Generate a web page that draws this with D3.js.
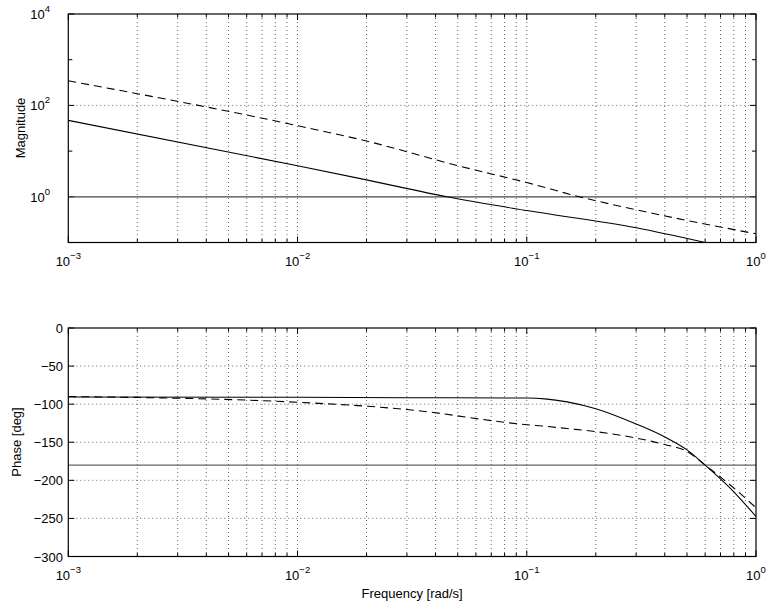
<!DOCTYPE html>
<html><head><meta charset="utf-8">
<script src="https://cdn.jsdelivr.net/npm/d3@7"></script>
<style>body{margin:0;background:#fff}text{font-family:"Liberation Sans",Arial,sans-serif;font-size:13px}</style>
</head><body><svg id="c" width="770" height="608"></svg>
<script>
// frequencies [rad/s] and readings
var magFreq = [0.001, 0.01, 0.02, 0.0448, 0.1, 0.3, 0.6];
var magSolid = [47, 4.8, 2.35, 1, 0.5, 0.21, 0.1];
var magDashFreq = [0.001, 0.01, 0.02, 0.05, 0.1, 0.17, 0.3, 1];
var magDash = [345, 36, 16.6, 4.8, 2.05, 1, 0.52, 0.155];
var phFreq = [0.001, 0.01, 0.03, 0.1, 0.12, 0.15, 0.2, 0.3, 0.4, 0.5, 0.6, 0.8, 1];
var phSolid = [-90.5, -91, -91.5, -92, -93, -97, -106, -126, -143, -160, -180, -215, -247.5];
var phDash = [-90, -97.5, -107, -127, -129, -132, -136, -144.5, -153, -162, -180, -210, -236];
var magTicks = [1, 100, 10000];
var phTicks = [0, -50, -100, -150, -200, -250, -300];

var svg = d3.select("#c");
var L = 68.3, R = 756;
var x = d3.scaleLog().domain([0.001, 1]).range([L, R]);
var decTicks = [];
[0.001, 0.01, 0.1].forEach(function(d){ for (var k = 1; k < 10; k++) decTicks.push(d * k); });
decTicks.push(1);

function panel(top, y, yTicks) {
  var B = top + 228.5;
  var g = svg.append("g");
  // grid
  g.selectAll(".vg").data(decTicks.slice(1, -1)).enter().append("line")
    .attr("x1", x).attr("x2", x).attr("y1", top).attr("y2", B)
    .attr("stroke", "#000").attr("stroke-width", 0.6).attr("stroke-dasharray", "1,3");
  g.selectAll(".hg").data(yTicks).enter().append("line")
    .attr("x1", L).attr("x2", R).attr("y1", y).attr("y2", y)
    .attr("stroke", "#000").attr("stroke-width", 0.6).attr("stroke-dasharray", "1,3");
  // ticks inside
  decTicks.forEach(function(t){
    var len = [0.001,0.01,0.1,1].indexOf(t) >= 0 ? 6 : 3.5;
    g.append("line").attr("x1", x(t)).attr("x2", x(t)).attr("y1", B).attr("y2", B - len).attr("stroke", "#000");
    g.append("line").attr("x1", x(t)).attr("x2", x(t)).attr("y1", top).attr("y2", top + len).attr("stroke", "#000");
  });
  [0.001, 0.01, 0.1, 1].forEach(function(t, i){
    var tx = g.append("text").attr("x", x(t)).attr("y", B + 23).attr("text-anchor", "middle");
    tx.append("tspan").text("10");
    tx.append("tspan").attr("dy", -7).attr("font-size", "9.5px").text(String(i - 3).replace("-", "\u2212"));
  });
  return {g: g, B: B};
}

// magnitude panel
var T1 = 14;
var yM = d3.scaleLog().domain([0.1, 10000]).range([T1 + 228.5, T1]);
var p1 = panel(T1, yM, [100]);
[10, 1000].forEach(function(t){
  p1.g.append("line").attr("x1", L).attr("x2", L + 4).attr("y1", yM(t)).attr("y2", yM(t)).attr("stroke", "#000");
  p1.g.append("line").attr("x1", R).attr("x2", R - 4).attr("y1", yM(t)).attr("y2", yM(t)).attr("stroke", "#000");
});
magTicks.forEach(function(t){
  p1.g.append("line").attr("x1", L).attr("x2", L + 6).attr("y1", yM(t)).attr("y2", yM(t)).attr("stroke", "#000");
  p1.g.append("line").attr("x1", R).attr("x2", R - 6).attr("y1", yM(t)).attr("y2", yM(t)).attr("stroke", "#000");
  var tx = p1.g.append("text").attr("x", 50).attr("y", yM(t) + 5).attr("text-anchor", "end");
  tx.append("tspan").text("10");
  tx.append("tspan").attr("dy", -7).attr("font-size", "9.5px").text(String(Math.round(Math.log10(t))));
});
p1.g.append("text").attr("transform", "translate(25," + (T1 + 114) + ") rotate(-90)").attr("text-anchor", "middle").text("Magnitude");
svg.append("clipPath").attr("id", "cp1").append("rect").attr("x", L).attr("y", T1).attr("width", R - L).attr("height", 228.5);
var lm = d3.line().x(function(d){ return x(d[0]); }).y(function(d){ return yM(d[1]); }).curve(d3.curveMonotoneX);
var c1 = p1.g.append("g").attr("clip-path", "url(#cp1)");
c1.append("line").attr("x1", L).attr("x2", R).attr("y1", yM(1)).attr("y2", yM(1)).attr("stroke", "#444").attr("stroke-width", 1.2);
c1.append("path").attr("d", lm(d3.zip(magFreq, magSolid))).attr("fill", "none").attr("stroke", "#000").attr("stroke-width", 1.1);
c1.append("path").attr("d", lm(d3.zip(magDashFreq, magDash))).attr("fill", "none").attr("stroke", "#000").attr("stroke-width", 1.1).attr("stroke-dasharray", "8,5");
p1.g.append("rect").attr("x", L).attr("y", T1).attr("width", R - L).attr("height", 228.5).attr("fill", "none").attr("stroke", "#000").attr("stroke-width", 1.2);

// phase panel
var T2 = 328;
var yP = d3.scaleLinear().domain([-300, 0]).range([T2 + 228.5, T2]);
var p2 = panel(T2, yP, phTicks.slice(1, -1));
phTicks.forEach(function(t){
  p2.g.append("line").attr("x1", L).attr("x2", L + 6).attr("y1", yP(t)).attr("y2", yP(t)).attr("stroke", "#000");
  p2.g.append("line").attr("x1", R).attr("x2", R - 6).attr("y1", yP(t)).attr("y2", yP(t)).attr("stroke", "#000");
  p2.g.append("text").attr("x", 63).attr("y", yP(t) + 5).attr("text-anchor", "end").text(String(t).replace("-", "\u2212"));
});
p2.g.append("text").attr("transform", "translate(21," + (T2 + 114) + ") rotate(-90)").attr("text-anchor", "middle").text("Phase [deg]");
var lp = d3.line().x(function(d){ return x(d[0]); }).y(function(d){ return yP(d[1]); }).curve(d3.curveMonotoneX);
p2.g.append("line").attr("x1", L).attr("x2", R).attr("y1", yP(-180)).attr("y2", yP(-180)).attr("stroke", "#666").attr("stroke-width", 1.2);
p2.g.append("path").attr("d", lp(d3.zip(phFreq, phSolid))).attr("fill", "none").attr("stroke", "#000").attr("stroke-width", 1.1);
p2.g.append("path").attr("d", lp(d3.zip(phFreq, phDash))).attr("fill", "none").attr("stroke", "#000").attr("stroke-width", 1.1).attr("stroke-dasharray", "8,5");
p2.g.append("rect").attr("x", L).attr("y", T2).attr("width", R - L).attr("height", 228.5).attr("fill", "none").attr("stroke", "#000").attr("stroke-width", 1.2);
svg.append("text").attr("x", (L + R) / 2).attr("y", 598).attr("text-anchor", "middle").text("Frequency [rad/s]");
</script></body></html>
